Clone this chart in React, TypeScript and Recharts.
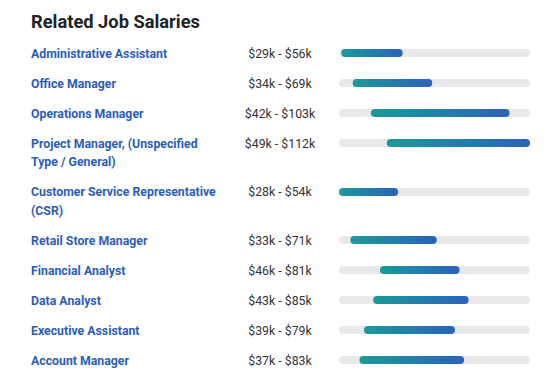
import { Bar, BarChart, XAxis, YAxis } from "recharts";

const jobTitles = [
    "Administrative Assistant",
    "Office Manager",
    "Operations Manager",
    "Project Manager, (Unspecified Type / General)",
    "Customer Service Representative (CSR)",
    "Retail Store Manager",
    "Financial Analyst",
    "Data Analyst",
    "Executive Assistant",
    "Account Manager",
];

// salaries in thousands of dollars
const lowSalaries = [29, 34, 42, 49, 28, 33, 46, 43, 39, 37];
const highSalaries = [56, 69, 103, 112, 54, 71, 81, 85, 79, 83];

const salaryDomain = [28, 112];

function SalaryBar({ index }: { index: number }) {
    const data = [{ name: jobTitles[index], range: [lowSalaries[index], highSalaries[index]] }];
    const gradId = `salaryGrad${index}`;
    return (
        <BarChart
            width={191}
            height={18}
            data={data}
            layout="vertical"
            margin={{ top: 0, right: 0, bottom: 0, left: 0 }}
            barSize={8}
        >
            <defs>
                <linearGradient id={gradId} x1="0" y1="0" x2="1" y2="0">
                    <stop offset="0%" stopColor="#1a9a9b" />
                    <stop offset="100%" stopColor="#2b62ba" />
                </linearGradient>
            </defs>
            <XAxis type="number" domain={salaryDomain} allowDataOverflow hide />
            <YAxis type="category" dataKey="name" hide />
            <Bar
                dataKey="range"
                fill={`url(#${gradId})`}
                radius={4}
                background={{ fill: "#e9e9ec", radius: 4 }}
                isAnimationActive={false}
            />
        </BarChart>
    );
}

export default function App() {
    return (
        <div
            style={{
                position: "absolute",
                top: 0,
                left: 0,
                width: 554,
                height: 374,
                background: "#fff",
                fontFamily: "Roboto, sans-serif",
            }}
        >
            <div
                style={{
                    position: "absolute",
                    left: 31,
                    top: 13,
                    fontSize: 18.3,
                    lineHeight: "18px",
                    fontWeight: 700,
                    color: "#222",
                }}
            >
                Related Job Salaries
            </div>
            <div style={{ position: "absolute", left: 31, top: 44.6 }}>
                {jobTitles.map((title, i) => (
                    <div
                        key={title}
                        style={{ display: "flex", alignItems: "flex-start", marginBottom: 11.5 }}
                    >
                        <div
                            style={{
                                width: 192,
                                fontSize: 12.3,
                                lineHeight: "18.5px",
                                fontWeight: 700,
                                color: "#2b5db5",
                            }}
                        >
                            {title}
                        </div>
                        <div
                            style={{
                                width: 114,
                                fontSize: 12.3,
                                lineHeight: "18.5px",
                                color: "#333",
                                textAlign: "center",
                            }}
                        >
                            ${lowSalaries[i]}k - ${highSalaries[i]}k
                        </div>
                        <div style={{ marginLeft: 2, marginTop: -0.5 }}>
                            <SalaryBar index={i} />
                        </div>
                    </div>
                ))}
            </div>
        </div>
    );
}
